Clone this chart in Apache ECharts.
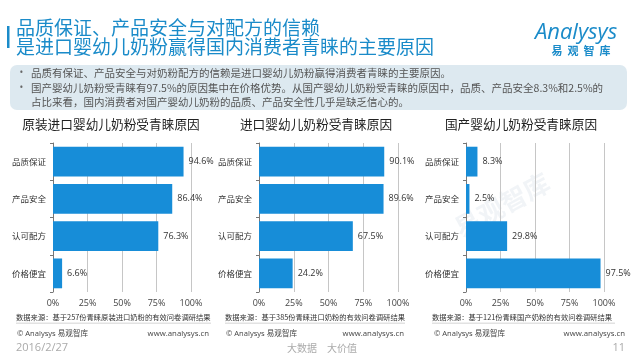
<!DOCTYPE html>
<html>
<head>
<meta charset="utf-8">
<script src="https://cdn.jsdelivr.net/npm/echarts@6/dist/echarts.min.js"></script>
<style>
html,body{margin:0;padding:0;background:#fff;}
#c{width:640px;height:360px;}
</style>
</head>
<body>
<div id="c"></div>
<script>
const categories = ['品质保证', '产品安全', '认可配方', '价格便宜'];
const originalImported = [94.6, 86.4, 76.3, 6.6];
const imported = [90.1, 89.6, 67.5, 24.2];
const domestic = [8.3, 2.5, 29.8, 97.5];
const panelTitles = ['原装进口婴幼儿奶粉受青睐原因', '进口婴幼儿奶粉受青睐原因', '国产婴幼儿奶粉受青睐原因'];
const sources = ['数据来源：基于257份青睐原装进口奶粉的有效问卷调研结果', '数据来源：基于385份青睐进口奶粉的有效问卷调研结果', '数据来源：基于121份青睐国产奶粉的有效问卷调研结果'];
const mainTitle = ['品质保证、产品安全与对配方的信赖', '是进口婴幼儿奶粉赢得国内消费者青睐的主要原因'];
const bullets = ['品质有保证、产品安全与对奶粉配方的信赖是进口婴幼儿奶粉赢得消费者青睐的主要原因。', '国产婴幼儿奶粉受青睐有97.5%的原因集中在价格优势。从国产婴幼儿奶粉受青睐的原因中，品质、产品安全8.3%和2.5%的', '占比来看，国内消费者对国产婴幼儿奶粉的品质、产品安全性几乎是缺乏信心的。'];
const seriesData = [originalImported, imported, domestic];

const CJK = "'Noto Sans CJK SC', sans-serif";
const LAT = "'Open Sans', 'Noto Sans CJK SC', sans-serif";
const BLUE = '#1a8bc9';
const BAR = '#178dd8';

const panels = [
  {left: 53, width: 138, titleX: 111, srcX: 16, srcEnd: 211, copyX: 17, wwwX: 209},
  {left: 259, width: 139, titleX: 316, srcX: 225, srcEnd: 405, copyX: 226, wwwX: 404},
  {left: 466, width: 138, titleX: 521, srcX: 432, srcEnd: 615, copyX: 434, wwwX: 625}
];

const grids = [], xAxes = [], yAxes = [], series = [];
panels.forEach((p, i) => {
  grids.push({left: p.left, width: p.width, top: 143, height: 149});
  xAxes.push({
    type: 'value', gridIndex: i, min: 0, max: 100, interval: 25,
    axisLine: {show: false}, axisTick: {show: false},
    axisLabel: {formatter: '{value}%', fontSize: 9, color: '#444', margin: 7, fontFamily: LAT},
    splitLine: {show: true, lineStyle: {color: '#c6c6c6', width: 1}}
  });
  yAxes.push({
    type: 'category', gridIndex: i, data: categories, inverse: true,
    axisLine: {show: true, lineStyle: {color: '#777', width: 1}},
    axisTick: {show: true, length: 3, lineStyle: {color: '#777'}},
    axisLabel: {fontSize: 8.5, color: '#333', margin: 7, fontFamily: CJK}
  });
  series.push({
    type: 'bar', xAxisIndex: i, yAxisIndex: i, data: seriesData[i],
    barCategoryGap: '20%',
    itemStyle: {color: BAR},
    label: {show: true, position: 'right', distance: 5, formatter: '{c}%', fontSize: 9, color: '#333', fontFamily: LAT},
    silent: true, animation: false
  });
});

const graphics = [];
// watermark (drawn first, behind everything)
graphics.push({type: 'text', x: 502, y: 205, rotation: 0.5, z: -1, style: {text: '易观智库', fill: 'rgba(120,150,180,0.10)', fontSize: 26, fontWeight: 'bold', fontFamily: CJK, verticalAlign: 'middle', align: 'center'}});
// title bar
graphics.push({type: 'rect', shape: {x: 7, y: 26, width: 2.5, height: 22}, style: {fill: BLUE}});
mainTitle.forEach((t, i) => {
  graphics.push({type: 'text', x: 16, y: 28 + i * 19, style: {text: t, fill: BLUE, fontSize: 19, fontFamily: CJK, verticalAlign: 'middle', align: 'left'}});
});
// logo
graphics.push({type: 'text', x: 576, y: 33, style: {text: 'Analysys', fill: BLUE, fontSize: 22, fontStyle: 'italic', fontFamily: LAT, verticalAlign: 'middle', align: 'center'}});
['易', '观', '智', '库'].forEach((ch, i) => {
  graphics.push({type: 'text', x: 557 + i * 16, y: 51, style: {text: ch, fill: BLUE, fontSize: 11, fontWeight: 'bold', fontFamily: CJK, verticalAlign: 'middle', align: 'center'}});
});
// bullet box
graphics.push({type: 'rect', shape: {x: 10, y: 65, width: 617, height: 45, r: 7}, style: {fill: '#dde9f0'}});
graphics.push({type: 'text', x: 21.5, y: 73, style: {text: '•', fill: '#666', fontSize: 10, fontFamily: LAT, verticalAlign: 'middle', align: 'center'}});
graphics.push({type: 'text', x: 21.5, y: 88, style: {text: '•', fill: '#666', fontSize: 10, fontFamily: LAT, verticalAlign: 'middle', align: 'center'}});
bullets.forEach((t, i) => {
  graphics.push({type: 'text', x: 31, y: 73 + i * 14.7, style: {text: t, fill: '#555', fontSize: 10.5, fontFamily: CJK, verticalAlign: 'middle', align: 'left'}});
});
// panel titles, sources, footers
panels.forEach((p, i) => {
  graphics.push({type: 'text', x: p.titleX, y: 124, style: {text: panelTitles[i], fill: '#222', fontSize: 12.7, fontFamily: CJK, verticalAlign: 'middle', align: 'center'}});
  graphics.push({type: 'text', x: p.srcX, y: 317, style: {text: sources[i], fill: '#333', fontSize: 7.3, fontFamily: CJK, verticalAlign: 'middle', align: 'left'}});
  graphics.push({type: 'rect', shape: {x: p.srcX, y: 322.5, width: p.srcEnd - p.srcX, height: 1.5}, style: {fill: '#e2e2e2'}});
  graphics.push({type: 'text', x: p.copyX, y: 334, style: {text: '© Analysys 易观智库', fill: '#444', fontSize: 7.6, fontFamily: LAT, verticalAlign: 'middle', align: 'left'}});
  graphics.push({type: 'text', x: p.wwwX, y: 334, style: {text: 'www.analysys.cn', fill: '#444', fontSize: 7.8, fontFamily: LAT, verticalAlign: 'middle', align: 'right'}});
});
// bottom line
graphics.push({type: 'text', x: 16, y: 348, style: {text: '2016/2/27', fill: '#aaa', fontSize: 11, fontFamily: LAT, verticalAlign: 'middle', align: 'left'}});
graphics.push({type: 'text', x: 322, y: 348, style: {text: '大数据　大价值', fill: '#aaa', fontSize: 10, fontFamily: CJK, verticalAlign: 'middle', align: 'center'}});
graphics.push({type: 'text', x: 625, y: 348, style: {text: '11', fill: '#aaa', fontSize: 11, fontFamily: LAT, verticalAlign: 'middle', align: 'right'}});

const chart = echarts.init(document.getElementById('c'), null, {renderer: 'canvas'});
chart.setOption({
  animation: false,
  backgroundColor: '#fff',
  grid: grids,
  xAxis: xAxes,
  yAxis: yAxes,
  series: series,
  graphic: graphics
});
</script>
</body>
</html>
